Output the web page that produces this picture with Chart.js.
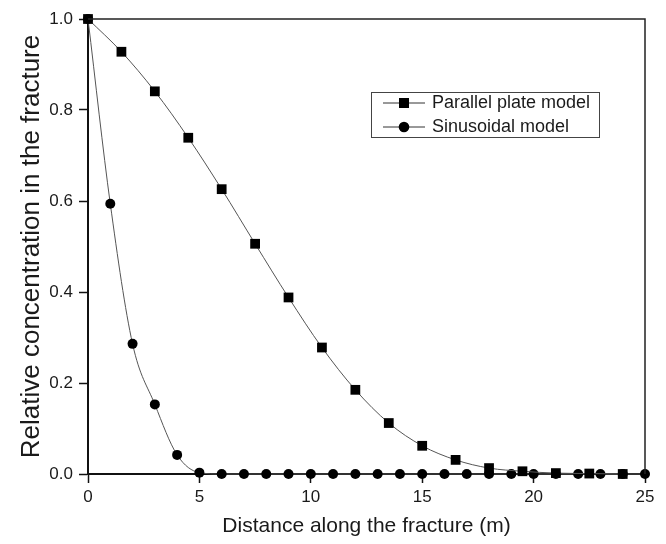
<!DOCTYPE html>
<html>
<head>
<meta charset="utf-8">
<script src="https://cdn.jsdelivr.net/npm/chart.js@4"></script>
<style>
  html, body { margin: 0; padding: 0; background: #ffffff; }
  #wrap { width: 666px; height: 544px; position: relative; }
</style>
</head>
<body>
<div id="wrap"><canvas id="c" width="666" height="544"></canvas></div>
<script>
// ---- data ----
const parallelX = [0, 1.5, 3, 4.5, 6, 7.5, 9, 10.5, 12, 13.5, 15, 16.5, 18, 19.5, 21, 22.5, 24];
const parallelY = [1.0, 0.928, 0.841, 0.739, 0.626, 0.506, 0.388, 0.278, 0.185, 0.112, 0.062, 0.031, 0.013, 0.006, 0.002, 0.001, 0.0];
const sinusX = [0, 1, 2, 3, 4, 5, 6, 7, 8, 9, 10, 11, 12, 13, 14, 15, 16, 17, 18, 19, 20, 21, 22, 23, 24, 25];
const sinusY = [1.0, 0.594, 0.286, 0.153, 0.042, 0.003, 0, 0, 0, 0, 0, 0, 0, 0, 0, 0, 0, 0, 0, 0, 0, 0, 0, 0, 0, 0];
const seriesNames = ['Parallel plate model', 'Sinusoidal model'];
const xTicks = [0, 5, 10, 15, 20, 25];
const yTicks = [0.0, 0.2, 0.4, 0.6, 0.8, 1.0];
const xTitle = 'Distance along the fracture (m)';
const yTitle = 'Relative concentration in the fracture';

const FONT = "'Liberation Sans', Arial, sans-serif";
const TXT = '#1a1a1a';

const toPts = (xs, ys) => xs.map((x, i) => ({ x: x, y: ys[i] }));

const framePlugin = {
  id: 'frame',
  afterDatasetsDraw(chart) {
    const { ctx, chartArea: a } = chart;
    ctx.save();
    ctx.strokeStyle = '#222';
    ctx.lineWidth = 1.5;
    ctx.beginPath();
    ctx.moveTo(a.left, a.top);
    ctx.lineTo(a.right, a.top);
    ctx.lineTo(a.right, a.bottom);
    ctx.stroke();
    ctx.restore();
  }
};

const legendPlugin = {
  id: 'boxLegend',
  afterDraw(chart) {
    const { ctx, chartArea: a } = chart;
    const bx = a.left + 283, by = a.top + 73, bw = 228, bh = 45;
    ctx.save();
    ctx.strokeStyle = '#444';
    ctx.lineWidth = 1;
    ctx.strokeRect(bx + 0.5, by + 0.5, bw, bh);
    chart.data.datasets.forEach((ds, i) => {
      const cy = by + 11 + i * 24;
      ctx.strokeStyle = '#333';
      ctx.lineWidth = 1;
      ctx.beginPath();
      ctx.moveTo(bx + 12, cy);
      ctx.lineTo(bx + 54, cy);
      ctx.stroke();
      ctx.fillStyle = '#000';
      ctx.beginPath();
      if (ds.pointStyle === 'rect') {
        ctx.rect(bx + 33 - 5, cy - 5, 10, 10);
      } else {
        ctx.arc(bx + 33, cy, 5.3, 0, Math.PI * 2);
      }
      ctx.fill();
      ctx.fillStyle = TXT;
      ctx.font = '18px ' + FONT;
      ctx.textBaseline = 'middle';
      ctx.textAlign = 'left';
      ctx.fillText(ds.label, bx + 61, cy);
    });
    ctx.restore();
  }
};

new Chart(document.getElementById('c'), {
  type: 'scatter',
  data: {
    datasets: [
      {
        label: seriesNames[0],
        data: toPts(parallelX, parallelY),
        showLine: true,
        borderColor: '#555',
        borderWidth: 1,
        cubicInterpolationMode: 'monotone',
        pointStyle: 'rect',
        pointRadius: 6.9,
        pointBackgroundColor: '#000',
        pointBorderColor: '#000',
        pointBorderWidth: 0,
        clip: false
      },
      {
        label: seriesNames[1],
        data: toPts(sinusX, sinusY),
        showLine: true,
        borderColor: '#555',
        borderWidth: 1,
        cubicInterpolationMode: 'monotone',
        pointStyle: 'circle',
        pointRadius: 5,
        pointBackgroundColor: '#000',
        pointBorderColor: '#000',
        pointBorderWidth: 0,
        clip: false
      }
    ]
  },
  options: {
    responsive: false,
    animation: false,
    devicePixelRatio: 1,
    layout: { padding: { top: 19, right: 21, left: 0, bottom: 0 } },
    plugins: { legend: { display: false }, tooltip: { enabled: false } },
    scales: {
      x: {
        type: 'linear',
        min: 0, max: 25,
        afterFit(s) { s.height = 70; },
        afterBuildTicks(s) { s.ticks = xTicks.map(v => ({ value: v })); },
        ticks: {
          color: TXT,
          font: { family: FONT, size: 17 },
          padding: 4,
          callback: v => String(v)
        },
        grid: { drawOnChartArea: false, drawTicks: true, tickLength: 9, color: '#111', tickWidth: 1.5 },
        border: { display: true, color: '#111', width: 2 },
        title: {
          display: true, text: xTitle, color: TXT,
          font: { family: FONT, size: 21 },
          padding: { top: 0, bottom: 5 }
        }
      },
      y: {
        type: 'linear',
        min: 0, max: 1,
        afterFit(s) { s.width = 88; },
        afterBuildTicks(s) { s.ticks = yTicks.map(v => ({ value: v })); },
        ticks: {
          color: TXT,
          font: { family: FONT, size: 17 },
          padding: 6,
          callback: v => v.toFixed(1)
        },
        grid: { drawOnChartArea: false, drawTicks: true, tickLength: 9, color: '#111', tickWidth: 1.5 },
        border: { display: true, color: '#111', width: 2 },
        title: {
          display: true, text: yTitle, color: TXT,
          font: { family: FONT, size: 26 },
          padding: { top: 16, bottom: 0 }
        }
      }
    }
  },
  plugins: [framePlugin, legendPlugin]
});
</script>
</body>
</html>
